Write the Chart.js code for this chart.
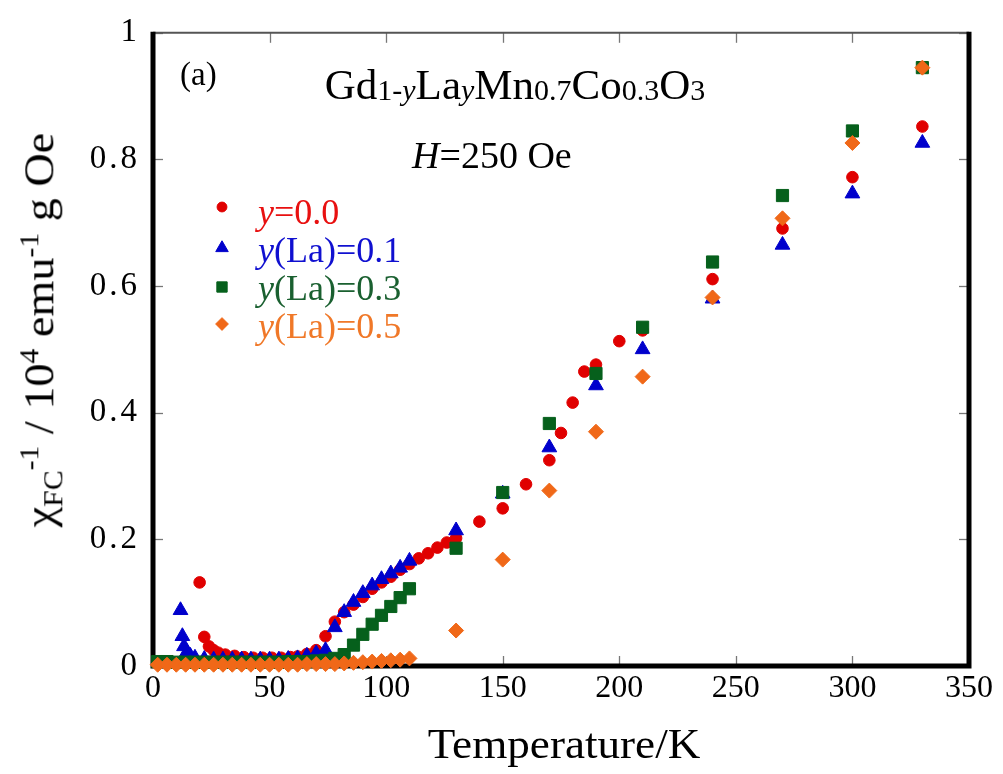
<!DOCTYPE html>
<html><head><meta charset="utf-8">
<script src="https://cdn.jsdelivr.net/npm/chart.js@4.4.0/dist/chart.umd.min.js"></script>
<style>
html,body{margin:0;padding:0;background:#fff;}
#wrap{position:relative;width:1003px;height:774px;overflow:hidden;font-family:"Liberation Serif","Times New Roman",serif;color:#000;}
#c{position:absolute;left:0;top:0;}
.t{position:absolute;white-space:nowrap;line-height:1;font-family:"Liberation Serif","Times New Roman",serif;}
.s{vertical-align:-1px;}
</style></head>
<body><div id="wrap"><canvas id="c" width="1003" height="774"></canvas>
<div class="t" id="title" style="left:515px;top:63px;font-size:43px;transform:translateX(-50%);">Gd<span class="s" style="font-size:30px">1-<i>y</i></span>La<span class="s" style="font-size:30px"><i>y</i></span>Mn<span class="s" style="font-size:30px">0.7</span>Co<span class="s" style="font-size:30px">0.3</span>O<span class="s" style="font-size:30px">3</span></div>
<div class="t" style="left:180px;top:58px;font-size:33px;">(a)</div>
<div class="t" style="left:412px;top:136px;font-size:38px;"><i>H</i>=250 Oe</div>
<div class="t" style="left:258px;top:194px;font-size:36px;color:#e81010;"><i>y</i>=0.0</div>
<div class="t" style="left:258px;top:232px;font-size:36px;color:#1010d0;"><i>y</i>(La)=0.1</div>
<div class="t" style="left:258px;top:270px;font-size:36px;color:#1a6030;"><i>y</i>(La)=0.3</div>
<div class="t" style="left:258px;top:308px;font-size:36px;color:#f07828;"><i>y</i>(La)=0.5</div>
<div class="t" style="left:564px;top:722px;font-size:43px;transform:translateX(-50%) scaleX(1.05);">Temperature/K</div>
<div class="t" style="left:42px;top:330px;font-size:42px;transform:translate(-50%,-50%) rotate(-90deg) scaleX(1.1);">&#967;<sub style="font-size:27px">FC</sub><sup style="font-size:27px">-1</sup> / 10<sup style="font-size:27px">4</sup> emu<sup style="font-size:27px">-1</sup> g Oe</div>
</div>
<script>
const redT = [20,22,24,26,28,31,35,39,43,47,51,55,59,62,66,70,74,78,82,86,90,94,98,102,106,110,114,118,122,126,130,140,150,160,170,175,180,185,190,200,210,240,270,300,330];
const redV = [0.132,0.046,0.031,0.025,0.021,0.018,0.016,0.014,0.013,0.013,0.013,0.013,0.014,0.015,0.019,0.025,0.047,0.070,0.085,0.097,0.109,0.122,0.132,0.141,0.152,0.161,0.170,0.178,0.187,0.195,0.202,0.228,0.249,0.287,0.325,0.368,0.416,0.465,0.476,0.513,0.530,0.611,0.691,0.772,0.852];
const blueT = [11.8,12.6,13.3,14.5,16,18,22,26,30,34,38,42,46,50,54,58,62,66,70,74,78,82,86,90,94,98,102,106,110,130,150,170,190,210,240,270,300,330];
const blueV = [0.088,0.047,0.031,0.022,0.016,0.013,0.011,0.010,0.010,0.010,0.010,0.010,0.010,0.010,0.010,0.011,0.012,0.016,0.020,0.025,0.061,0.085,0.101,0.115,0.127,0.137,0.146,0.155,0.166,0.214,0.272,0.345,0.443,0.500,0.580,0.665,0.746,0.826];
const greenT = [2,6,10,14,18,22,26,30,34,38,42,46,50,54,58,62,66,70,74,78,82,86,90,94,98,102,106,110,130,150,170,190,210,240,270,300,330];
const greenV = [0.007,0.007,0.006,0.006,0.006,0.006,0.006,0.006,0.006,0.006,0.006,0.006,0.006,0.006,0.007,0.007,0.007,0.008,0.009,0.012,0.018,0.033,0.050,0.066,0.080,0.094,0.108,0.122,0.186,0.274,0.383,0.462,0.535,0.638,0.743,0.845,0.945];
const orangeT = [2,6,10,14,18,22,26,30,34,38,42,46,50,54,58,62,66,70,74,78,82,86,90,94,98,102,106,110,130,150,170,190,210,240,270,300,330];
const orangeV = [0.002,0.002,0.002,0.002,0.002,0.002,0.002,0.002,0.002,0.002,0.002,0.002,0.002,0.002,0.002,0.002,0.003,0.003,0.003,0.003,0.004,0.005,0.006,0.007,0.008,0.009,0.010,0.012,0.056,0.168,0.277,0.370,0.457,0.582,0.707,0.826,0.945];
const xTickValues = [0,50,100,150,200,250,300,350];
const yTickLabels = ['0','0.2','0.4','0.6','0.8','1'];

const pts = (T,V) => T.map((t,i)=>({x:t,y:V[i]}));
const series = [
  {label:'y=0.0', T:redT, V:redV, color:'#e00000', style:'circle', r:5.8, order:3},
  {label:'y(La)=0.1', T:blueT, V:blueV, color:'#0000cc', style:'triangle', r:8.5, order:2},
  {label:'y(La)=0.3', T:greenT, V:greenV, color:'#06601c', style:'rect', r:8.6, order:1},
  {label:'y(La)=0.5', T:orangeT, V:orangeV, color:'#f06818', style:'rectRot', r:7.5, order:0}
];
const legendY = [207,248,287,324];
const legendX = 222;
const SERIF = '"Liberation Serif", "Times New Roman", serif';

const framePlugin = {
  id:'frame',
  beforeDraw(chart){
    const ys = chart.scales.y;
    if (ys && !ys._spaced) {
      const orig = ys.drawLabels.bind(ys);
      ys.drawLabels = (ca) => {
        const ctx = chart.ctx; ctx.save();
        if ('letterSpacing' in ctx) ctx.letterSpacing = '3px';
        orig(ca); ctx.restore();
      };
      ys._spaced = true;
    }
  },
  beforeDatasetsDraw(chart){
    const {ctx, chartArea:{left,right,top,bottom}, scales:{x,y}} = chart;
    ctx.save();
    ctx.strokeStyle = '#777'; ctx.lineWidth = 1.3;
    x.ticks.forEach(t=>{
      const px = Math.round(x.getPixelForValue(t.value))+0.5;
      ctx.beginPath(); ctx.moveTo(px,bottom); ctx.lineTo(px,bottom-10); ctx.stroke();
      ctx.beginPath(); ctx.moveTo(px,top); ctx.lineTo(px,top+10); ctx.stroke();
    });
    y.ticks.forEach(t=>{
      const py = Math.round(y.getPixelForValue(t.value))+0.5;
      ctx.beginPath(); ctx.moveTo(left,py); ctx.lineTo(left+10,py); ctx.stroke();
      ctx.beginPath(); ctx.moveTo(right,py); ctx.lineTo(right-10,py); ctx.stroke();
    });
    ctx.strokeStyle = '#555'; ctx.lineWidth = 2;
    ctx.beginPath(); ctx.moveTo(left,top); ctx.lineTo(right,top); ctx.stroke();
    ctx.strokeStyle = '#000'; ctx.lineWidth = 5;
    ctx.beginPath(); ctx.moveTo(left,top-1); ctx.lineTo(left,bottom); ctx.lineTo(right,bottom); ctx.lineTo(right,top-1); ctx.stroke();
    ctx.restore();
  },
  afterDraw(chart){
    const ctx = chart.ctx;
    series.forEach((s,i)=>{
      ctx.save();
      ctx.fillStyle = s.color; ctx.strokeStyle = s.color; ctx.lineWidth = 1;
      Chart.helpers.drawPoint(ctx, {pointStyle:s.style, radius:s.r*0.85, rotation:0, borderWidth:1}, legendX, legendY[i]);
      ctx.restore();
    });
  }
};

function build(){
  Chart.defaults.font.family = SERIF;
  new Chart(document.getElementById('c'), {
    type:'scatter',
    data:{datasets: series.map(s=>({
      label:s.label, data:pts(s.T,s.V), order:s.order,
      pointStyle:s.style, pointRadius:s.r, pointHoverRadius:s.r,
      backgroundColor:s.color, borderColor:s.color, borderWidth:1,
      showLine:false, clip:false
    }))},
    options:{
      responsive:false, animation:false, devicePixelRatio:1,
      layout:{padding:{top:27,right:34,left:0,bottom:0}},
      plugins:{legend:{display:false}, tooltip:{enabled:false}},
      events:[],
      scales:{
        x:{type:'linear', min:0, max:350,
          afterBuildTicks: s => { s.ticks = xTickValues.map(v=>({value:v})); },
          afterFit: s => { s.height = 108; },
          grid:{display:false, drawTicks:false}, border:{display:false},
          ticks:{color:'#000', padding:3, font:{family:SERIF, size:32}, maxRotation:0}
        },
        y:{type:'linear', min:0, max:1,
          afterBuildTicks: s => { s.ticks = yTickLabels.map(v=>({value:parseFloat(v)})); },
          afterFit: s => { s.width = 153; },
          grid:{display:false, drawTicks:false}, border:{display:false},
          ticks:{color:'#000', padding:13, font:{family:SERIF, size:33},
            callback:(v,i)=>yTickLabels[i]}
        }
      }
    },
    plugins:[framePlugin]
  });
}
if (document.fonts && document.fonts.load) {
  document.fonts.load('32px "Liberation Serif"').then(build, build);
} else { build(); }
</script>
</body></html>
